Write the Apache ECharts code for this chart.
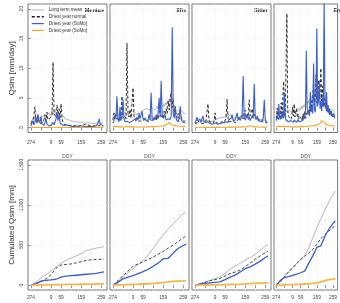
<!DOCTYPE html>
<html><head><meta charset="utf-8">
<script src="https://cdn.jsdelivr.net/npm/echarts@6/dist/echarts.min.js"></script>
<style>html,body{margin:0;padding:0;background:#fff}#c{width:340px;height:303px}</style>
</head><body><div id="c"></div>
<script>
const stations = ['Mentue','Ilfis','Sitter','Ergolz'];
const legendLabels = ['Long term mean','Driest year normal','Driest year (SoMo)','Driest year (SoMo)'];
const seriesKeys = ['mean','normal','somoBlue','somoOrange'];
const dayIdx = [0,5,10,15,20,25,30,35,40,45,50,55,60,65,70,75,80,85,90,95,100,105,110,115,120,125,130,135,140,145,150,155,160,165,170,175,180,185,190,195,200,205,210,215,220,225,230,235,240,245,250,255,260,265,270,275,280,285,290,295,300,305,310,315,320,325,330,335,340,345,350,355,360];
const cumIdx = [0,25,50,75,100,125,150,175,200,225,250,275,300,325,350,364];
const xTickIdx = [0,50,100,150,200,250,300,350];
const xLabelIdx = [0,100,150,250,350];
const yTicksDaily = [0,5,10,15,20];
const yTicksCum = [0,500,1000,1500];

// ---- daily Qsim [mm/day] ----
const meanMentue = [1.0,1.3,1.6,1.2,1.9,1.5,1.3,1.8,2.1,1.6, 1.4,1.9,1.7,2.0,1.6,1.8,2.2,1.9,2.5,2.0, 2.3,2.9,2.2,2.6,3.1,2.4,2.7,2.2,2.5,1.9, 2.1,1.8,1.7,1.9,1.5,1.6,1.4,1.5,1.3,1.4, 1.2,1.3,1.1,1.2,1.0,1.1,1.0,1.0,0.9,1.0, 0.9,0.9,0.8,0.9,0.8,0.8,0.8,0.7,0.8,0.7, 0.8,0.7,0.7,0.8,0.7,0.7,0.8,0.7,0.7,0.8, 0.7,0.8,0.8];
const normalMentue = [0.6,1.2,0.8,1.0,3.5,1.1,0.7,2.0,0.9,0.8, 0.7,1.0,0.9,1.4,2.2,1.2,2.6,1.3,1.0,1.6, 1.4,2.0,11.0,2.4,2.6,1.8,3.8,2.2,3.2,1.6, 4.0,1.5,0.8,0.6,0.5,0.4,0.4,0.5,0.4,0.3, 0.4,0.3,0.4,0.3,0.3,0.4,0.3,0.3,0.3,0.4, 0.4,0.5,0.4,0.5,0.6,0.4,0.5,0.4,0.4,0.5, 0.3,0.4,0.3,0.4,0.3,0.4,0.3,0.3,0.4,0.3, 0.3,0.3,0.3];
const blueMentue = [0.3,0.6,1.2,0.5,0.9,1.8,1.0,2.3,1.2,0.8, 1.9,0.7,0.5,0.4,0.6,1.4,0.6,0.4,0.3,0.5, 0.4,0.6,0.9,0.5,0.7,1.5,2.5,1.2,2.2,0.8, 0.6,0.5,0.4,0.4,0.3,0.5,0.6,0.4,0.3,0.3, 0.3,0.2,0.3,0.2,0.2,0.3,0.2,0.2,0.2,0.3, 0.4,0.3,0.2,0.2,0.2,0.2,0.3,0.2,0.2,0.2, 0.2,0.2,0.2,0.3,0.2,0.3,0.5,0.9,1.5,0.6, 0.3,0.4,0.3];
const orangeMentue = [0.05,0.06,0.05,0.07,0.06,0.05,0.06,0.05,0.05,0.06, 0.05,0.06,0.05,0.05,0.06,0.05,0.06,0.05,0.05,0.06, 0.06,0.07,0.08,0.06,0.07,0.06,0.08,0.07,0.06,0.07, 0.06,0.05,0.05,0.06,0.05,0.05,0.04,0.05,0.04,0.04, 0.04,0.05,0.04,0.04,0.05,0.04,0.04,0.05,0.04,0.04, 0.05,0.04,0.04,0.05,0.06,0.05,0.04,0.04,0.05,0.04, 0.04,0.04,0.05,0.04,0.04,0.04,0.05,0.05,0.06,0.05, 0.04,0.05,0.04];

const meanIlfis = [1.8,2.1,2.4,2.0,2.6,2.2,2.0,2.5,2.3,2.1, 2.0,2.4,2.2,2.6,2.3,2.1,2.5,2.2,2.0,2.3, 2.4,2.2,2.6,2.3,2.1,2.5,2.8,2.4,2.6,2.9, 2.7,3.0,2.8,3.2,2.9,3.1,3.3,3.0,3.4,3.1, 3.2,3.5,3.0,3.3,3.6,3.2,3.4,3.8,3.3,3.6, 3.9,3.5,4.2,3.8,4.5,4.0,4.8,4.3,5.2,4.4, 3.8,3.5,3.2,3.0,2.9,3.1,2.8,2.7,2.9,2.6, 2.5,2.7,2.4];
const normalIlfis = [1.3,2.5,1.6,2.2,1.4,1.2,1.8,1.1,1.5,5.3, 1.6,1.3,2.0,1.5,14.2,2.4,1.8,3.1,1.6,1.4, 6.7,2.0,1.5,1.3,1.6,1.2,1.4,1.1,1.3,1.2, 1.0,1.3,1.1,1.5,1.2,1.0,1.4,1.1,1.3,1.6, 1.2,1.5,1.8,1.3,2.0,1.4,2.6,4.0,1.8,2.2, 1.5,2.8,1.9,3.2,2.4,4.5,3.0,5.0,6.1,3.4, 4.8,2.5,3.6,2.0,1.6,2.4,1.5,1.3,1.8,1.2, 1.4,1.1,1.2];
const blueIlfis = [0.8,1.2,2.0,1.5,5.3,1.4,1.0,3.5,1.2,1.8, 4.7,1.6,1.0,0.9,1.1,0.8,0.9,0.8,1.0,1.3, 1.2,0.9,1.5,1.1,1.8,1.3,2.4,1.5,1.2,2.8, 1.4,1.1,1.6,1.2,1.0,1.3,2.2,1.4,5.9,1.6, 1.2,1.8,1.3,2.2,1.5,2.6,5.0,1.8,7.9,2.4, 1.6,1.4,2.0,1.3,1.1,1.5,1.2,1.4,2.0,16.9, 2.5,1.6,3.4,1.4,1.2,1.0,1.8,3.6,1.3,1.0, 0.9,1.2,0.9];
const orangeIlfis = [0.15,0.18,0.2,0.16,0.22,0.18,0.15,0.2,0.17,0.15, 0.14,0.16,0.13,0.15,0.2,0.16,0.14,0.13,0.15,0.12, 0.14,0.12,0.13,0.11,0.12,0.14,0.12,0.11,0.13,0.12, 0.12,0.14,0.13,0.15,0.14,0.16,0.15,0.18,0.2,0.17, 0.18,0.2,0.22,0.19,0.24,0.21,0.26,0.24,0.3,0.28, 0.32,0.36,0.42,0.5,0.62,0.75,0.9,0.7,0.55,0.48, 0.42,0.38,0.35,0.3,0.28,0.3,0.26,0.25,0.24,0.22, 0.2,0.21,0.19];

const meanSitter = [0.9,1.1,1.3,1.0,1.2,1.4,1.1,1.3,1.2,1.0, 1.1,1.3,1.2,1.4,1.1,1.2,1.0,1.3,1.1,1.2, 1.4,1.2,1.5,1.3,1.6,1.4,1.8,1.5,1.7,2.0, 1.8,2.2,1.9,2.4,2.0,1.8,2.1,1.7,1.9,1.6, 1.5,1.8,1.6,1.4,1.7,1.5,1.9,1.6,2.2,1.8, 1.6,2.0,1.7,2.3,1.9,1.6,1.8,2.1,1.7,1.9, 1.5,1.7,1.4,1.6,1.3,1.5,1.4,1.6,1.3,1.4, 1.2,1.3,1.1];
const normalSitter = [0.7,1.0,0.8,1.3,0.9,0.7,0.8,1.1,0.7,0.9, 0.8,1.2,1.5,4.0,1.3,0.9,0.8,1.0,0.7,0.9, 2.5,1.0,0.8,0.7,0.9,0.8,0.7,1.0,0.8,0.9, 1.2,1.6,4.8,1.5,1.0,0.9,1.1,0.8,1.0,1.3, 0.9,1.2,1.0,1.4,1.1,1.6,1.3,2.2,1.5,1.8, 3.0,1.6,2.4,1.8,4.7,2.0,2.6,3.2,1.8,2.3, 2.5,1.5,1.3,1.8,1.2,1.0,1.4,1.1,0.9,1.2, 0.9,1.0,0.8];
const blueSitter = [0.8,1.2,1.8,1.1,1.3,1.5,0.9,1.2,2.0,1.0, 0.8,0.9,0.7,1.0,0.8,0.7,0.9,0.6,0.8,0.7, 0.6,0.8,0.7,0.6,0.9,0.7,0.6,0.8,0.7,0.9, 0.8,1.0,1.2,0.9,1.4,1.1,1.6,2.2,1.2,1.0, 1.3,1.6,2.5,1.4,1.8,1.2,1.5,2.0,8.7,1.8, 1.3,1.6,2.2,1.4,1.8,1.2,1.5,2.0,1.6,7.4, 1.8,1.4,2.0,1.2,1.5,1.1,1.3,1.0,1.6,4.7, 1.4,1.0,0.8];
const orangeSitter = [0.06,0.08,0.07,0.09,0.07,0.06,0.08,0.07,0.06,0.07, 0.06,0.07,0.06,0.06,0.07,0.06,0.06,0.05,0.06,0.06, 0.06,0.05,0.06,0.05,0.06,0.06,0.07,0.06,0.07,0.08, 0.08,0.09,0.1,0.09,0.1,0.09,0.1,0.11,0.1,0.11, 0.1,0.12,0.11,0.12,0.11,0.13,0.12,0.14,0.15,0.14, 0.16,0.18,0.2,0.24,0.3,0.38,0.32,0.26,0.22,0.2, 0.18,0.16,0.15,0.14,0.13,0.12,0.12,0.11,0.11,0.1, 0.1,0.09,0.09];

const meanErgolz = [2.0,2.4,2.8,2.3,2.6,3.0,2.5,2.8,2.4,2.7, 2.9,2.5,3.1,2.6,2.8,2.4,2.9,2.6,3.2,2.7, 3.0,2.6,2.9,2.5,2.8,3.1,2.7,3.0,3.3,2.9, 3.2,3.6,3.1,3.8,3.4,3.9,4.2,3.7,4.4,3.9, 4.6,4.1,5.0,4.4,5.3,4.8,5.6,4.9,6.0,5.2, 5.5,4.9,5.8,5.0,5.4,4.7,5.1,4.5,4.9,4.2, 4.0,3.6,3.8,3.3,3.5,3.1,3.2,2.9,3.0,2.8, 2.7,2.9,2.6];
const normalErgolz = [1.5,3.3,1.8,1.4,2.2,1.6,4.2,2.0,1.7,7.8, 2.4,1.8,1.5,19.2,3.0,1.9,1.6,2.2,1.4,1.8, 3.5,2.0,4.0,1.8,2.6,3.2,1.7,2.3,1.5,1.9, 1.6,2.0,1.4,2.4,1.8,2.8,1.6,2.2,1.9,3.0, 2.4,3.6,2.8,4.5,3.2,5.5,7.5,3.8,4.6,9.0, 4.2,6.0,8.0,4.8,5.6,10.0,4.5,7.0,3.8,5.2, 3.4,4.2,2.8,3.6,2.5,3.0,2.2,2.8,2.0,2.4, 1.8,2.2,1.6];
const blueErgolz = [1.2,2.0,1.5,4.0,1.8,1.4,2.2,1.5,2.8,1.6, 5.9,1.8,1.3,1.1,1.5,1.0,1.3,0.9,1.2,1.0, 1.1,0.9,1.3,1.0,1.2,0.9,1.1,1.4,1.0,1.2, 1.3,1.1,1.6,1.2,2.0,1.5,3.0,13.0,3.5,2.2, 2.8,2.0,6.0,2.6,3.4,2.4,10.8,3.2,2.6,4.0, 16.7,3.6,4.4,8.0,3.2,4.5,2.8,5.0,3.5,21.5, 4.8,3.2,6.0,2.6,3.8,2.4,3.2,2.2,2.8,2.0, 1.8,2.4,1.6];
const orangeErgolz = [0.15,0.2,0.18,0.25,0.2,0.17,0.22,0.18,0.2,0.24, 0.2,0.18,0.16,0.22,0.18,0.16,0.15,0.17,0.15,0.14, 0.16,0.14,0.15,0.13,0.15,0.14,0.16,0.15,0.17,0.16, 0.18,0.17,0.2,0.18,0.22,0.2,0.24,0.26,0.22,0.25, 0.28,0.25,0.3,0.28,0.33,0.3,0.36,0.34,0.4,0.38, 0.45,0.5,0.6,0.55,0.7,0.9,1.2,1.0,1.4,0.9, 0.7,0.6,0.55,0.5,0.45,0.42,0.4,0.38,0.35,0.32, 0.3,0.28,0.26];

// ---- cumulated Qsim [mm] ----
const cumMeanMentue = [0,35,90,130,175,225,275,310,338,365,392,430,448,462,474,480];
const cumNormalMentue = [0,20,45,80,130,210,252,258,265,278,292,310,316,320,323,325];
const cumBlueMentue = [0,20,50,60,66,74,100,112,118,124,130,136,142,148,160,167];
const cumOrangeMentue = [0,1,3,4,5,7,8,9,10,11,12,13,14,15,16,17];

const cumMeanIlfis = [0,50,100,155,205,255,308,375,455,545,625,700,765,830,890,917];
const cumNormalIlfis = [0,55,120,175,235,265,290,322,350,385,420,462,500,545,590,612];
const cumBlueIlfis = [0,35,80,100,120,145,170,198,235,275,330,335,400,460,495,512];
const cumOrangeIlfis = [0,3,5,8,10,12,15,18,22,27,32,40,47,50,53,54];

const cumMeanSitter = [0,20,40,60,82,104,150,200,240,272,310,345,385,435,485,505];
const cumNormalSitter = [0,18,35,55,70,85,115,145,165,188,230,275,325,365,405,425];
const cumBlueSitter = [0,12,22,30,36,42,70,100,125,165,205,228,262,300,345,362];
const cumOrangeSitter = [0,1,2,3,4,5,7,9,11,13,16,20,24,26,28,29];

const cumMeanErgolz = [0,55,110,165,222,270,320,375,460,590,715,830,940,1040,1130,1170];
const cumNormalErgolz = [0,45,105,165,212,265,320,360,400,445,510,580,630,675,720,745];
const cumBlueErgolz = [0,60,95,108,122,138,155,175,275,365,470,490,610,700,770,800];
const cumOrangeErgolz = [0,2,4,6,8,10,12,15,18,22,28,40,58,68,76,80];

const daily = [
  [meanMentue, normalMentue, blueMentue, orangeMentue],
  [meanIlfis, normalIlfis, blueIlfis, orangeIlfis],
  [meanSitter, normalSitter, blueSitter, orangeSitter],
  [meanErgolz, normalErgolz, blueErgolz, orangeErgolz]
];
const cumul = [
  [cumMeanMentue, cumNormalMentue, cumBlueMentue, cumOrangeMentue],
  [cumMeanIlfis, cumNormalIlfis, cumBlueIlfis, cumOrangeIlfis],
  [cumMeanSitter, cumNormalSitter, cumBlueSitter, cumOrangeSitter],
  [cumMeanErgolz, cumNormalErgolz, cumBlueErgolz, cumOrangeErgolz]
];

const FONT = '"Liberation Sans", Arial, sans-serif';
const colLeft = [28, 110, 192, 274];
const colW = 79;
const topRow = {top: 4, height: 128.5};
const botRow = {top: 160, height: 130};

const styleTop = [
  {color:'#a8a8a8', width:0.8, type:'solid'},
  {color:'#1a1a1a', width:0.9, type:[3,2]},
  {color:'#3a5fcd', width:1.1, type:'solid'},
  {color:'#f5a623', width:1.1, type:'solid'}
];
const styleBot = [
  {color:'#b0b0b0', width:0.9, type:'solid'},
  {color:'#333333', width:0.9, type:[3,2]},
  {color:'#3a5fcd', width:1.3, type:'solid'},
  {color:'#f6b84a', width:1.8, type:'solid'}
];

const doyOf = v => ((273 + Math.round(v)) % 365) + 1;

const grids = [], xAxes = [], yAxes = [], series = [], graphics = [];
for (let r = 0; r < 2; r++) {
  for (let c = 0; c < 4; c++) {
    const g = r * 4 + c;
    const row = r === 0 ? topRow : botRow;
    grids.push({left: colLeft[c], width: colW, top: row.top, height: row.height,
      show: true, borderColor: '#555', borderWidth: 0.8, backgroundColor: 'transparent'});
    xAxes.push({
      type: 'value', gridIndex: g, min: -14.56, max: 378.56,
      axisLine: {show: false},
      axisTick: {show: true, length: 3, customValues: xTickIdx, lineStyle: {color: '#555', width: 0.6}},
      axisLabel: {customValues: xLabelIdx, formatter: v => String(doyOf(v)), fontSize: 4.8, color: '#444', margin: r === 0 ? 7.5 : 5.5, fontFamily: FONT},
      splitLine: {show: true, lineStyle: {color: '#f3f3f3', width: 0.6}},
      name: r === 0 ? 'DOY' : '', nameLocation: 'middle', nameGap: 22,
      nameTextStyle: {fontSize: 4.8, color: '#444', fontFamily: FONT}
    });
    yAxes.push({
      type: 'value', gridIndex: g,
      min: r === 0 ? -0.8 : -60, max: r === 0 ? 20.8 : 1560,
      axisLine: {show: false},
      axisTick: {show: c === 0, length: 3, customValues: r === 0 ? yTicksDaily : yTicksCum, lineStyle: {color: '#555', width: 0.6}},
      axisLabel: {show: c === 0, customValues: r === 0 ? yTicksDaily : yTicksCum, rotate: 90, fontSize: 4.8, color: '#444', margin: 3.5, fontFamily: FONT},
      splitLine: {show: true, lineStyle: {color: '#f3f3f3', width: 0.6}},
      name: c === 0 ? (r === 0 ? 'Qsim [mm/day]' : 'Cumulated Qsim [mm]') : '',
      nameLocation: 'middle', nameRotate: 90, nameGap: 12,
      nameTextStyle: {fontSize: 8, color: '#333', fontFamily: FONT}
    });
    for (let s = 0; s < 4; s++) {
      const xs = r === 0 ? dayIdx : cumIdx;
      const vals = r === 0 ? daily[c][s] : cumul[c][s];
      const st = r === 0 ? styleTop[s] : styleBot[s];
      series.push({
        type: 'line', name: seriesKeys[s], xAxisIndex: g, yAxisIndex: g,
        data: xs.map((x, j) => [x, vals[j]]),
        symbol: 'none', showSymbol: false, clip: true, silent: true, animation: false,
        lineStyle: {color: st.color, width: st.width, type: st.type},
        itemStyle: {color: st.color}, z: 2 + s
      });
    }
  }
}
for (let c = 0; c < 4; c++) {
  graphics.push({type: 'text', x: colLeft[c] + colW - 3, y: 10,
    style: {text: stations[c], align: 'right', verticalAlign: 'middle',
      fontSize: 5.5, fontWeight: 'bold', fontFamily: FONT, fill: '#111'}});
}

const chart = echarts.init(document.getElementById('c'), null, {renderer: 'canvas'});
chart.setOption({
  animation: false,
  backgroundColor: '#fff',
  grid: grids, xAxis: xAxes, yAxis: yAxes, series: series,
  graphic: graphics,
  legend: {
    left: 31, top: 7.5, orient: 'vertical', padding: 0,
    itemWidth: 12, itemHeight: 4, itemGap: 1.8,
    selectedMode: false,
    itemStyle: {opacity: 0},
    formatter: n => legendLabels[seriesKeys.indexOf(n)],
    textStyle: {fontSize: 4.6, color: '#333', fontFamily: FONT},
    data: [
      {name: 'mean', lineStyle: {width: 0.8}},
      {name: 'normal', lineStyle: {width: 1.6}},
      {name: 'somoBlue', lineStyle: {width: 1.2}},
      {name: 'somoOrange', lineStyle: {width: 1.2}}
    ]
  }
});
</script></body></html>
